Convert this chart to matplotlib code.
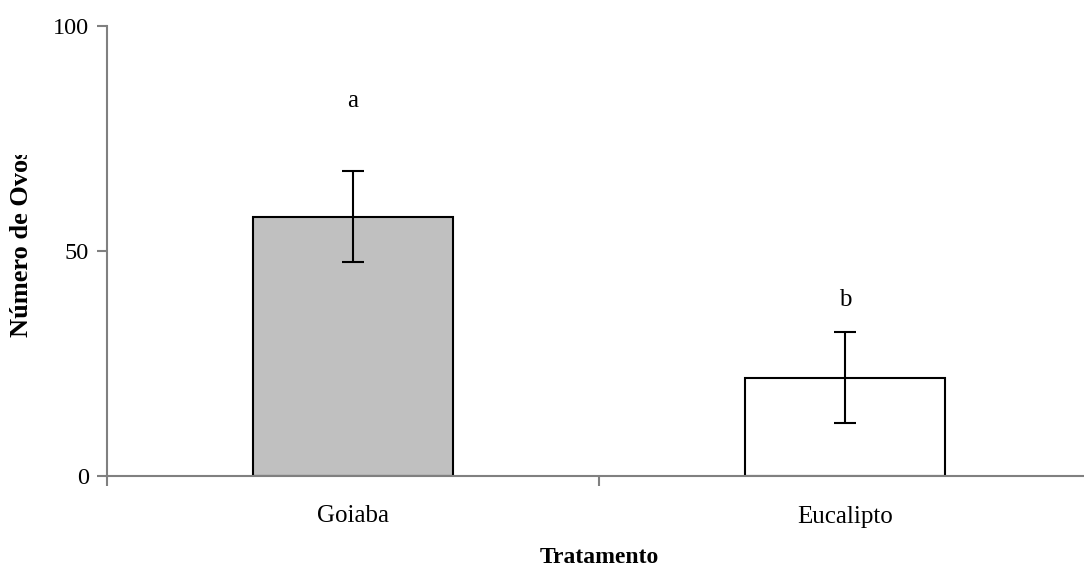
import matplotlib
matplotlib.use("Agg")
import matplotlib.pyplot as plt
from matplotlib.transforms import Bbox

plt.rcParams['font.family'] = ['Liberation Serif', 'DejaVu Serif']

# dados
tratamentos = ['Goiaba', 'Eucalipto']
medias = [57.6, 21.8]
erros = [10.1, 10.1]
letras = ['a', 'b']
pos_letras = [83.3, 39.1]
cores = ['#c0c0c0', '#ffffff']

W, H = 1084, 572
fig = plt.figure(figsize=(W / 100, H / 100), dpi=100)
ax = fig.add_axes([107 / W, (H - 476) / H, (1091 - 107) / W, (476 - 26) / H])

x = list(range(len(tratamentos)))
ax.bar(x, medias, width=0.405, color=cores, edgecolor='black', linewidth=1.5, zorder=2)
ax.errorbar(x, medias, yerr=erros, fmt='none', ecolor='black', elinewidth=1.5,
            capsize=8, capthick=1.5, zorder=3)
for xi, l, p in zip(x, letras, pos_letras):
    ax.text(xi, p, l, ha='center', va='center', fontsize=18)

ax.set_xlim(-0.5, 1.5)
ax.set_ylim(0, 100)
ax.set_yticks([0, 50, 100])
ax.set_yticklabels(['0', '50', '100'], fontsize=17.5)
ax.set_xticks([-0.5, 0.5, 1.5])
ax.set_xticklabels([])
ax.tick_params(axis='y', direction='out', length=7, color='#808080', width=1.5, pad=6)
ax.tick_params(axis='x', direction='out', length=7, color='#808080', width=1.5)
for xi, t in zip(x, tratamentos):
    ax.text(xi, -9, t, ha='center', va='center', fontsize=18)
ax.text(0.5, -18.2, 'Tratamento', ha='center', va='center', fontsize=17, fontweight='bold')

for s in ['top', 'right']:
    ax.spines[s].set_visible(False)
for s in ['left', 'bottom']:
    ax.spines[s].set_color('#808080')
    ax.spines[s].set_linewidth(1.5)

yl = fig.text(22 / W, (H - 337) / H, 'Número de Ovos', rotation=90, ha='center', va='bottom',
              fontsize=19, fontweight='bold')
yl.set_clip_box(Bbox([[0, 0], [W, H - 155]]))
yl.set_clip_on(True)

fig.savefig('out.png', dpi=100)
